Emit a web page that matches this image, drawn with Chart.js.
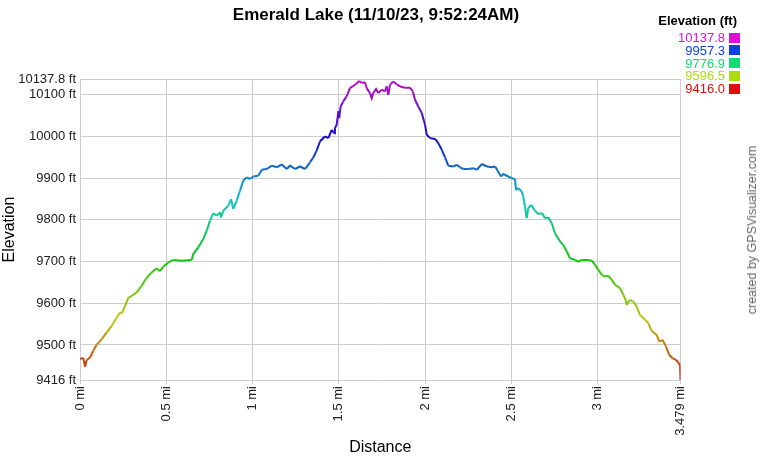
<!DOCTYPE html>
<html>
<head>
<meta charset="utf-8">
<title>Emerald Lake</title>
<script src="https://cdn.jsdelivr.net/npm/chart.js@4.4.0/dist/chart.umd.min.js"></script>
<style>
  body { margin: 0; background: #fff; font-family: "Liberation Sans", Arial, sans-serif; }
  #wrap { position: relative; width: 760px; height: 460px; }
  #chartTitle {
    position: absolute; left: 0; top: 5px; width: 752px;
    text-align: center; font-weight: bold; font-size: 17px; color: #000;
  }
  #legendTitle {
    position: absolute; right: 23px; top: 13px;
    font-weight: bold; font-size: 13px; color: #000;
  }
  .legend-row { position: absolute; right: 35px; font-size: 13px; line-height: 13px; }
  .legend-box { position: absolute; left: 729px; width: 11px; height: 10px; }
  #credit {
    position: absolute; left: 752px; top: 230px;
    transform: translate(-50%, -50%) rotate(-90deg);
    white-space: nowrap; font-size: 12.5px; font-weight: normal; color: #666;
  }
</style>
</head>
<body>
<div id="wrap">
  <canvas id="profileChart" width="760" height="460"></canvas>
  <div id="chartTitle">Emerald Lake (11/10/23, 9:52:24AM)</div>
  <div id="legendTitle">Elevation (ft)</div>
  <div id="legendRows"></div>
  <div id="credit">created by GPSVisualizer.com</div>
</div>
<script>
    // distance along the track (mi) and elevation (ft)
    const distances = [
      0.000, 0.019, 0.029, 0.039, 0.058, 0.077, 0.097, 0.126, 0.155, 0.184,
      0.213, 0.232, 0.242, 0.261, 0.280, 0.300, 0.329, 0.357, 0.386, 0.415,
      0.444, 0.463, 0.483, 0.512, 0.541, 0.589, 0.647, 0.656, 0.685, 0.714,
      0.734, 0.753, 0.772, 0.792, 0.811, 0.817, 0.830, 0.859, 0.875, 0.888,
      0.908, 0.927, 0.946, 0.966, 0.985, 1.004, 1.033, 1.053, 1.082, 1.111,
      1.140, 1.169, 1.198, 1.217, 1.246, 1.275, 1.304, 1.333, 1.352, 1.371,
      1.390, 1.419, 1.439, 1.458, 1.472, 1.477, 1.487, 1.497, 1.502, 1.510,
      1.525, 1.545, 1.564, 1.593, 1.618, 1.632, 1.651, 1.661, 1.680, 1.690,
      1.699, 1.715, 1.728, 1.748, 1.767, 1.777, 1.786, 1.796, 1.815, 1.835,
      1.854, 1.883, 1.912, 1.928, 1.941, 1.960, 1.980, 1.999, 2.009, 2.028,
      2.057, 2.076, 2.096, 2.115, 2.134, 2.163, 2.183, 2.202, 2.221, 2.250,
      2.279, 2.299, 2.328, 2.357, 2.386, 2.405, 2.420, 2.439, 2.453, 2.481,
      2.501, 2.520, 2.526, 2.539, 2.559, 2.568, 2.578, 2.588, 2.597, 2.613,
      2.632, 2.655, 2.678, 2.694, 2.713, 2.733, 2.752, 2.781, 2.800, 2.820,
      2.839, 2.868, 2.887, 2.907, 2.945, 2.965, 2.984, 3.003, 3.023, 3.042,
      3.061, 3.081, 3.100, 3.129, 3.148, 3.163, 3.167, 3.183, 3.206, 3.225,
      3.244, 3.273, 3.293, 3.312, 3.341, 3.356, 3.376, 3.395, 3.414, 3.434,
      3.453, 3.466, 3.477, 3.479
    ];

    const elevations = [
      9466, 9469, 9448, 9464, 9470, 9486, 9501, 9514, 9530, 9546,
      9566, 9578, 9576, 9594, 9613, 9618, 9626, 9642, 9661, 9674,
      9684, 9677, 9688, 9698, 9704, 9702, 9704, 9718, 9734, 9754,
      9774, 9798, 9816, 9810, 9818, 9806, 9822, 9834, 9850, 9826,
      9846, 9870, 9894, 9902, 9898, 9904, 9906, 9920, 9922, 9930,
      9926, 9933, 9922, 9930, 9922, 9928, 9922, 9938, 9950, 9966,
      9988, 10000, 9996, 10016, 10008, 10020, 10028, 10060, 10044, 10072,
      10084, 10096, 10116, 10124, 10133, 10128, 10130, 10116, 10104, 10092,
      10104, 10114, 10104, 10112, 10108, 10120, 10100, 10124, 10132, 10125,
      10120, 10117, 10117, 10108, 10088, 10072, 10056, 10028, 10004, 9996,
      9994, 9984, 9968, 9950, 9930, 9928, 9932, 9926, 9922, 9922,
      9924, 9920, 9934, 9928, 9926, 9928, 9918, 9904, 9910, 9904,
      9900, 9898, 9872, 9876, 9868, 9856, 9832, 9804, 9828, 9836,
      9824, 9814, 9816, 9804, 9806, 9792, 9768, 9748, 9740, 9724,
      9708, 9704, 9700, 9704, 9704, 9702, 9692, 9680, 9668, 9664,
      9666, 9656, 9644, 9636, 9620, 9606, 9596, 9608, 9604, 9592,
      9572, 9561, 9552, 9534, 9524, 9508, 9512, 9496, 9476, 9468,
      9464, 9458, 9451, 9416
    ];

    const xTicks = [0, 0.5, 1, 1.5, 2, 2.5, 3, 3.479];
    const yTicks = [9416, 9500, 9600, 9700, 9800, 9900, 10000, 10100, 10137.8];
    const legendValues = [10137.8, 9957.3, 9776.9, 9596.5, 9416.0];

    const minElev = 9416;
    const maxElev = 10137.8;
    const fontFamily = "'Liberation Sans', Arial, sans-serif";

    function elevHue(elev) {
      const t = Math.min(1, Math.max(0, (elev - minElev) / (maxElev - minElev)));
      return 300 * t;
    }

    function lineColor(elev) {
      return `hsl(${elevHue(elev).toFixed(1)}, 85%, 42%)`;
    }

    function buildLegend() {
      const rows = document.getElementById("legendRows");
      legendValues.forEach((value, index) => {
        const top = 31 + index * 12.8;
        const color = `hsl(${elevHue(value).toFixed(1)}, 88%, 46%)`;
        const label = document.createElement("div");
        label.className = "legend-row";
        label.style.top = `${top}px`;
        label.style.color = color;
        label.textContent = value.toFixed(1);
        const box = document.createElement("div");
        box.className = "legend-box";
        box.style.top = `${top + 1.5}px`;
        box.style.background = color;
        rows.appendChild(label);
        rows.appendChild(box);
      });
    }

    const points = distances.map((distance, index) => ({ x: distance, y: elevations[index] }));

    new Chart(document.getElementById("profileChart"), {
      type: "line",
      data: {
        datasets: [
          {
            label: "Elevation",
            data: points,
            borderWidth: 2,
            pointRadius: 0,
            tension: 0,
            fill: false,
            segment: {
              borderColor: (ctx) => lineColor((ctx.p0.parsed.y + ctx.p1.parsed.y) / 2)
            }
          }
        ]
      },
      options: {
        responsive: false,
        animation: false,
        devicePixelRatio: 1,
        layout: {
          padding: { top: 79, right: 79.5, bottom: 0, left: 0 }
        },
        plugins: {
          legend: { display: false },
          tooltip: { enabled: false }
        },
        scales: {
          x: {
            type: "linear",
            min: 0,
            max: 3.479,
            afterBuildTicks: (scale) => {
              scale.ticks = xTicks.map((value) => ({ value }));
            },
            afterFit: (scale) => {
              scale.height = 80;
            },
            ticks: {
              autoSkip: false,
              minRotation: 90,
              maxRotation: 90,
              padding: 2,
              color: "#222",
              font: { family: fontFamily, size: 13 },
              callback: (value) => `${value} mi`
            },
            grid: { color: "#cccccc", tickLength: 4, tickColor: "#cccccc" },
            border: { color: "#cccccc" },
            title: {
              display: true,
              text: "Distance",
              color: "#000",
              font: { family: fontFamily, size: 16 },
              padding: { top: 0, bottom: 3 }
            }
          },
          y: {
            min: minElev,
            max: maxElev,
            afterBuildTicks: (scale) => {
              scale.ticks = yTicks.map((value) => ({ value }));
            },
            afterFit: (scale) => {
              scale.width = 80;
            },
            ticks: {
              autoSkip: false,
              padding: 4,
              color: "#222",
              font: { family: fontFamily, size: 13 },
              callback: (value) => `${value} ft`
            },
            grid: { color: "#cccccc", drawTicks: false },
            border: { color: "#cccccc" },
            title: {
              display: true,
              text: "Elevation",
              color: "#000",
              font: { family: fontFamily, size: 16 },
              padding: { top: 0, bottom: 2 }
            }
          }
        }
      }
    });

    buildLegend();
</script>
</body>
</html>
